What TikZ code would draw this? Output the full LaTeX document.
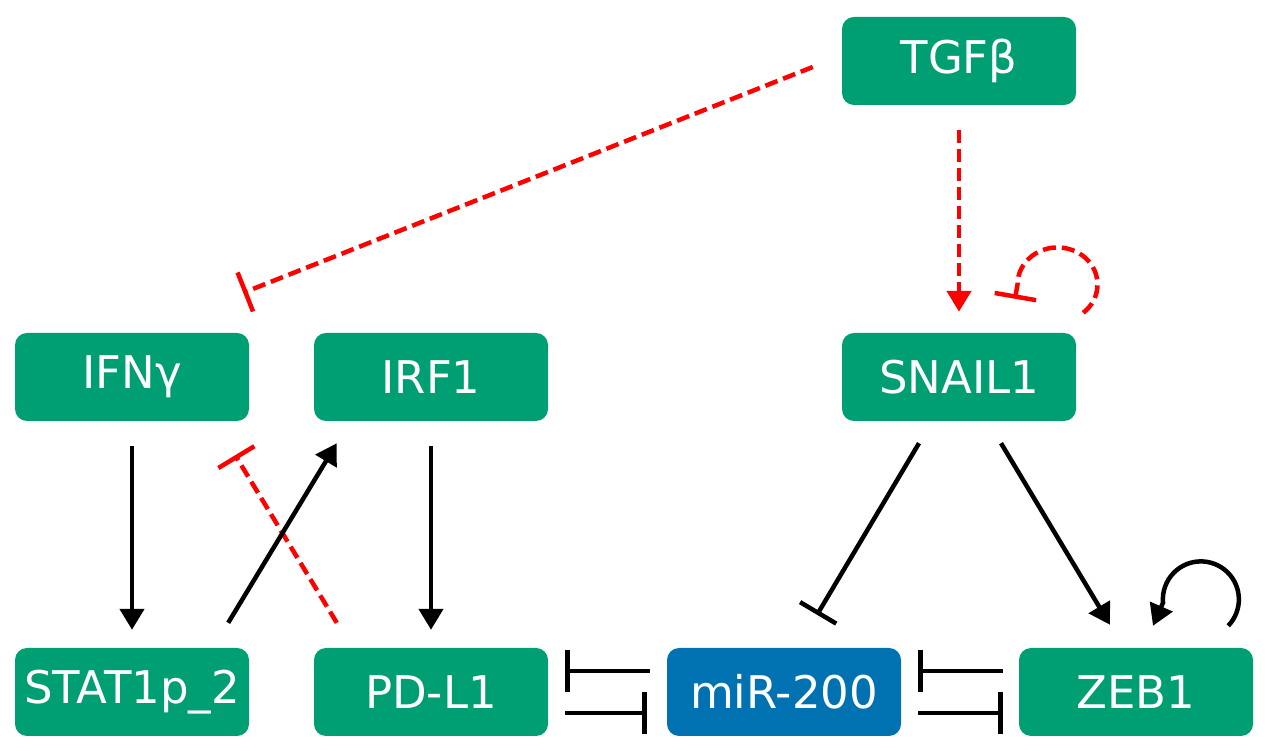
\documentclass[tikz,border=0pt]{standalone}
\usepackage{fontspec}
\setmainfont{DejaVu Sans}
\usetikzlibrary{arrows.meta}
\definecolor{bgreen}{HTML}{009E73}
\definecolor{bblue}{HTML}{0072B2}
\tikzset{
  gene/.style={fill=bgreen, text=white, rounded corners=12pt, minimum width=234pt, minimum height=88pt, inner sep=0pt, font=\fontsize{45}{50}\selectfont},
  mirna/.style={gene, fill=bblue},
  act/.style={line width=4.5pt, -{Triangle[length=21pt,width=24pt]}},
  inh/.style={line width=4.5pt, -{Bar[width=42pt]}},
  redx/.style={red, dash pattern=on 13pt off 6pt}
}
\begin{document}
\begin{tikzpicture}[x=1pt,y=1pt]
\useasboundingbox (0,0) rectangle (1268,751);
\node [gene] (tgf) at (959,690) {TGFβ};
\node [gene] (ifn) at (132,374) {IFNγ}; \node [gene] (irf) at (431,374) {IRF1}; \node [gene] (snail) at (959,374) {SNAIL1};
\node [gene] (stat) at (132,59) {STAT1p\_2}; \node [gene] (pdl) at (431,59) {PD-L1};
\node [mirna] (mir) at (784,59) {miR-200}; \node [gene] (zeb) at (1136,59) {ZEB1};
% red dashed edges
\draw [inh,redx] ([shift={(-29,-6)}]tgf.west) -- ([shift={(-6,40)}]ifn.north east);
\draw [act,redx] ([yshift=-25]tgf.south) -- ([yshift=21]snail.north);
\draw [inh,redx] ([shift={(7,20)}]snail.north east) arc [start angle=-50, end angle=180, x radius=40, y radius=37] -- ([shift={(56,34)}]snail.north);
\draw [inh,redx] ([shift={(23,25)}]pdl.north west) -- ([shift={(-14,-34)}]ifn.south east);
% black edges
\draw [act] ([yshift=-25]ifn.south) -- ([yshift=18]stat.north);
\draw [act] ([shift={(-21,25)}]stat.north east) -- ([shift={(23,-22)}]irf.south west);
\draw [act] ([yshift=-25]irf.south) -- ([yshift=18]pdl.north);
\draw [inh] ([shift={(-40,-22)}]snail.south) -- ([shift={(33,33)}]mir.north);
\draw [act] ([shift={(42,-22)}]snail.south) -- ([shift={(-26,23)}]zeb.north);
\draw [act] ([shift={(-25,22)}]zeb.north east) arc [start angle=-44, end angle=185, radius=38] -- ([shift={(17,22)}]zeb.north);
% mutual inhibition
\draw [inh] ([shift={(-17,21)}]mir.west) -- ([shift={(17,21)}]pdl.east);
\draw [inh] ([shift={(17,-21)}]pdl.east) -- ([shift={(-20,-21)}]mir.west);
\draw [inh] ([shift={(-16,21)}]zeb.west) -- ([shift={(17,21)}]mir.east);
\draw [inh] ([shift={(17,-21)}]mir.east) -- ([shift={(-16,-21)}]zeb.west);
\end{tikzpicture}
\end{document}
